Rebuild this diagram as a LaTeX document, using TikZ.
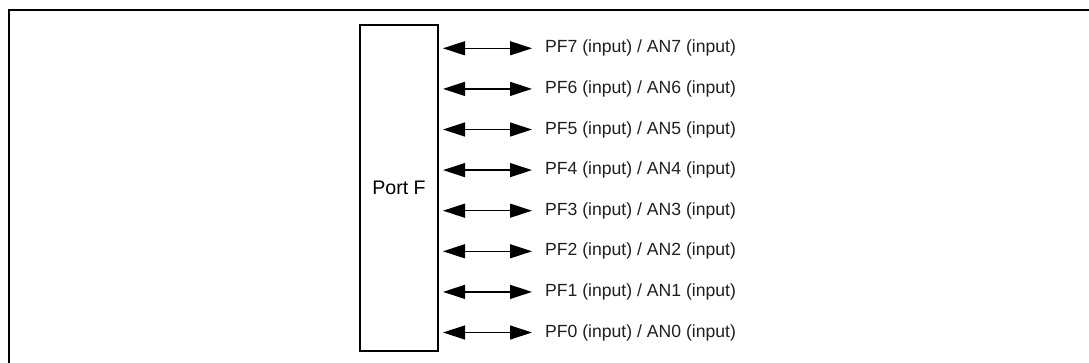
\documentclass[tikz,border=0pt]{standalone}
\usepackage{fontspec}
\setmainfont{Liberation Sans}
\usetikzlibrary{arrows.meta}
\begin{document}
\begin{tikzpicture}[x=1pt,y=-1pt,
  frame/.style={line width=2.2pt},
  portbox/.style={draw,line width=2pt,minimum width=78pt,minimum height=326pt,inner sep=0pt,font=\fontsize{19.6}{22}\selectfont},
  lbl/.style={anchor=west,inner sep=0pt,font=\fontsize{17.6}{20}\selectfont,text=black!88},
  bidir/.style={line width=1.3pt,{Triangle[length=22pt,width=14pt]}-{Triangle[length=22pt,width=14pt]},shorten <=4pt,shorten >=13pt}]
\useasboundingbox (0,0) rectangle (1089,363);
\coordinate (fa) at (8.8,363);
\coordinate (fb) at (8.8,10);
\coordinate (fc) at (1089,10);
\draw[frame] (fa) -- (fb) -- (fc);
\node[portbox] (port) at (399,188) {Port F};
\foreach \i in {0,...,7}{
  \node[lbl] (l\i) at (545,{332.5-40.6*\i}) {PF\i\ (input) / AN\i\ (input)};
  \draw[bidir] (port.east |- l\i.west) -- (l\i.west);
}
\end{tikzpicture}
\end{document}
